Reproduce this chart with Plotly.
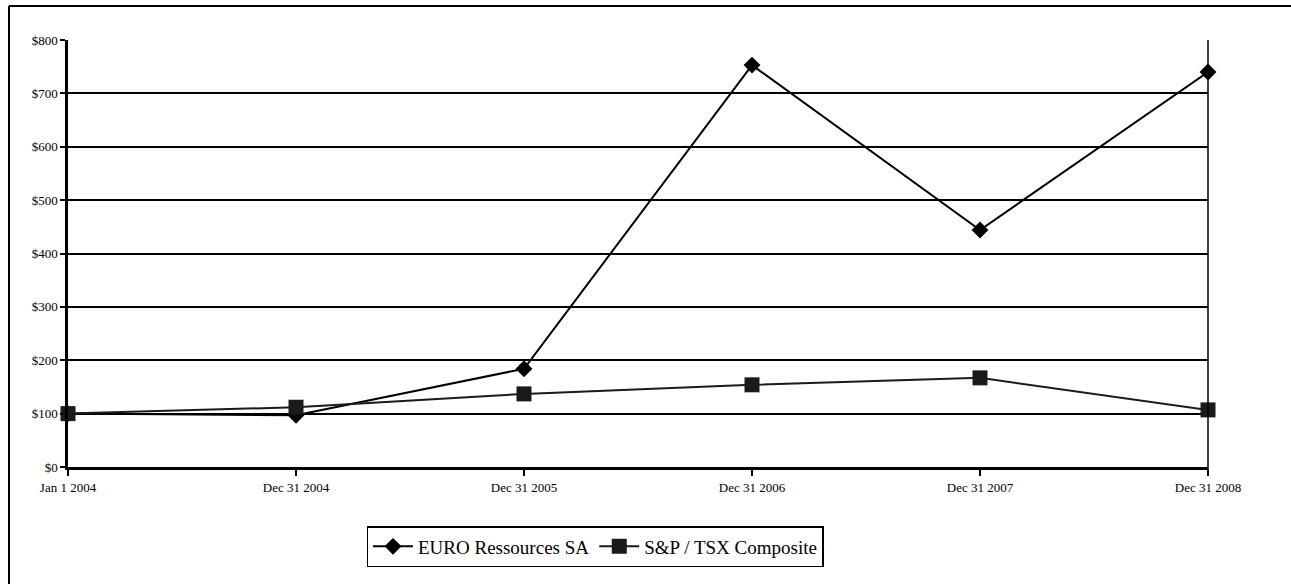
import plotly.graph_objects as go

periods = ["Jan 1 2004", "Dec 31 2004", "Dec 31 2005", "Dec 31 2006", "Dec 31 2007", "Dec 31 2008"]
euro_values = [100, 97, 184, 753, 444, 740]
tsx_values = [100, 112, 137, 154, 167, 107]
y_ticks = [0, 100, 200, 300, 400, 500, 600, 700, 800]
y_labels = ["$0", "$100", "$200", "$300", "$400", "$500", "$600", "$700", "$800"]

idx = list(range(len(periods)))
FONT = "Liberation Serif"

fig = go.Figure()
fig.add_trace(go.Scatter(
    x=idx, y=euro_values, name="EURO Ressources SA", mode="lines+markers",
    line=dict(color="#000000", width=2),
    marker=dict(symbol="diamond", size=13, color="#000000"),
    cliponaxis=False,
))
fig.add_trace(go.Scatter(
    x=idx, y=tsx_values, name="S&P / TSX Composite", mode="lines+markers",
    line=dict(color="#1a1a1a", width=2),
    marker=dict(symbol="square", size=15, color="#1a1a1a"),
    cliponaxis=False,
))

L, R, T, B = 68, 1208, 40, 467
W, H = 1291, 584
pw, ph = R - L, B - T

def px_x(p):
    return (p - L) / pw

def px_y(p):
    return (B - p) / ph

fig.update_layout(
    width=W, height=H,
    margin=dict(l=L, r=W - R, t=T, b=H - B, autoexpand=False),
    paper_bgcolor="white", plot_bgcolor="white",
    font=dict(family=FONT, color="#000000"),
    showlegend=True,
    legend=dict(
        orientation="h", x=px_x(595), xanchor="center", y=px_y(526), yanchor="top",
        bordercolor="#000000", borderwidth=1.5, bgcolor="white",
        font=dict(family=FONT, size=19, color="#000000"),
        itemwidth=40, tracegroupgap=0,
    ),
    xaxis=dict(
        range=[0, len(periods) - 1], tickvals=idx, ticktext=periods,
        showgrid=False, zeroline=False,
        showline=True, linecolor="#000000", linewidth=3,
        ticks="outside", ticklen=6, tickwidth=1.5, tickcolor="#000000",
        tickfont=dict(family=FONT, size=13, color="#000000"),
        fixedrange=True,
    ),
    yaxis=dict(
        range=[0, 800], tickvals=y_ticks, ticktext=y_labels,
        showgrid=True, gridcolor="#000000", gridwidth=2,
        zeroline=False,
        showline=True, linecolor="#000000", linewidth=2.5,
        ticks="outside", ticklen=5, tickwidth=1.5, tickcolor="#000000",
        tickfont=dict(family=FONT, size=13, color="#000000"),
        fixedrange=True,
    ),
    shapes=[
        dict(type="line", xref="paper", yref="paper", x0=1, x1=1,
             y0=px_y(473), y1=1, line=dict(color="#000000", width=1.5)),
        dict(type="line", xref="paper", yref="paper", x0=px_x(9), x1=px_x(1300),
             y0=px_y(6), y1=px_y(6), line=dict(color="#000000", width=2)),
        dict(type="line", xref="paper", yref="paper", x0=px_x(9), x1=px_x(9),
             y0=px_y(6), y1=px_y(600), line=dict(color="#000000", width=2)),
    ],
)

fig.write_html("out.html")
